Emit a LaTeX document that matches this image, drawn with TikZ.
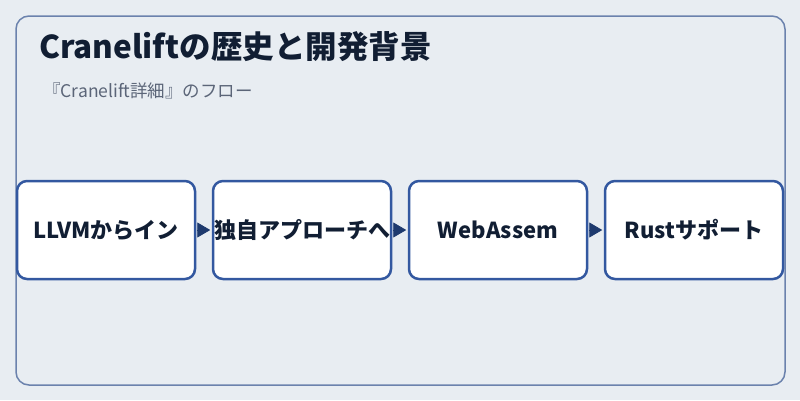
\documentclass[tikz,border=0pt]{standalone}
\usepackage{fontspec}
\setmainfont{Noto Sans CJK JP}
\usetikzlibrary{arrows.meta}
\definecolor{bgc}{HTML}{E8EDF2}
\definecolor{framec}{HTML}{6B82AD}
\definecolor{boxc}{HTML}{3358A0}
\definecolor{arrc}{HTML}{1E3A6E}
\definecolor{titlec}{HTML}{111E33}
\definecolor{subc}{HTML}{5B6578}
\tikzset{
  frame/.style={draw=framec, line width=1.5pt, rounded corners=13pt},
  stepbox/.style={draw=boxc, fill=white, line width=2.5pt, rounded corners=10pt,
    minimum width=178pt, minimum height=98pt, inner sep=0pt,
    font=\bfseries\fontsize{22}{26}\selectfont, text=titlec},
  arr/.style={draw=arrc, line width=0.8pt, -{Triangle[length=13pt,width=15pt]}, arrc},
  titletext/.style={anchor=base west, inner sep=0pt, text=titlec, font=\bfseries\fontsize{31.5}{38}\selectfont},
  subtext/.style={anchor=base west, inner sep=0pt, text=subc, font=\fontsize{17.5}{21}\selectfont}
}
\begin{document}
\begin{tikzpicture}[x=1pt,y=-1pt]
\fill[bgc] (0,0) rectangle (800,400);
\useasboundingbox (0,0) rectangle (800,400);
\draw[frame] (16,16) rectangle (785,385);
\node[titletext] (title) at (39,58) {Craneliftの歴史と開発背景};
\node[subtext] (sub) at (43,97) {『Cranelift詳細』のフロー};
\node[stepbox] (b1) at (106,230) {LLVMからイン};
\node[stepbox] (b2) at (302,230) {独自アプローチへ};
\node[stepbox] (b3) at (498,230) {WebAssem};
\node[stepbox] (b4) at (694,230) {Rustサポート};
\draw[arr] ([xshift=1.5pt]b1.east) -- ([xshift=-1.5pt]b2.west);
\draw[arr] ([xshift=1.5pt]b2.east) -- ([xshift=-1.5pt]b3.west);
\draw[arr] ([xshift=1.5pt]b3.east) -- ([xshift=-1.5pt]b4.west);
\end{tikzpicture}
\end{document}
